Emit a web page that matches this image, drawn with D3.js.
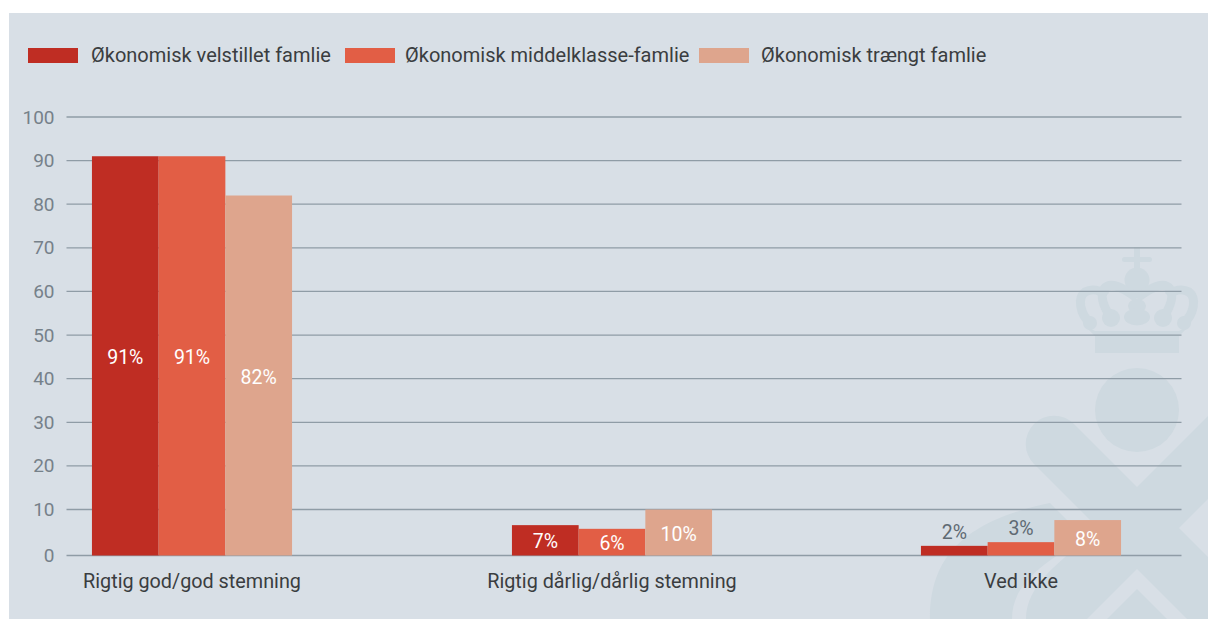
<!DOCTYPE html>
<html>
  <head>
    <meta charset="utf-8">
    <title></title>
    <script src="https://d3js.org/d3.v7.min.js"></script>
    <style>
      html, body { margin: 0; padding: 0; background: #fff; }
      svg { display: block; }
      text { font-family: "Roboto", sans-serif; }
    </style>
  </head>
  <body>
    <script type="text/javascript">

    var categories = ["Rigtig god/god stemning", "Rigtig dårlig/dårlig stemning", "Ved ikke"];
    var series = ["Økonomisk velstillet famlie", "Økonomisk middelklasse-famlie", "Økonomisk trængt famlie"];
    var velstillet = [91, 6.6, 2.1];
    var middelklasse = [91, 5.8, 2.9];
    var traengt = [82, 10, 7.7];
    var velstilletLabels = ["91%", "7%", "2%"];
    var middelklasseLabels = ["91%", "6%", "3%"];
    var traengtLabels = ["82%", "10%", "8%"];
    var yTicks = [0, 10, 20, 30, 40, 50, 60, 70, 80, 90, 100];

    var width = 1208, height = 619;

    var svg = d3.select("body").append("svg")
        .attr("width", width)
        .attr("height", height);

    svg.append("rect").attr("x", 9).attr("y", 13).attr("width", 1199).attr("height", 606).attr("fill", "#d8dfe6");

    // watermark: crown and cross behind the grid
    var mark = svg.append("g").attr("fill", "#ced9e0");
    mark.append("circle").attr("cx", 1137).attr("cy", 410).attr("r", 42);
    mark.append("path").attr("d", "M1137,487L1208,416V557L1208,619H1187L1137,569L1087,619H1026C1026,585 1060,560 1100,530L1034,464A28,28 0 0 1 1074,424Z");
    mark.append("path").attr("d", "M1050,503L1085,538C1050,560 1012,580 1012,619H930C930,560 960,522 1050,503Z");
    // light gaps in the cross
    mark.append("path").attr("fill", "#d8dfe6").attr("d", "M1208,499L1179,528L1208,557Z");
    mark.append("path").attr("d", "M1137,589L1107,619H1167Z");

    var crown = mark.append("g");
    crown.append("rect").attr("x", 1134).attr("y", 247).attr("width", 6).attr("height", 26);
    crown.append("rect").attr("x", 1122).attr("y", 257).attr("width", 30).attr("height", 5).attr("rx", 2.5);
    crown.append("circle").attr("cx", 1137).attr("cy", 280).attr("r", 12.5);
    crown.append("ellipse").attr("cx", 1137).attr("cy", 306).attr("rx", 9).attr("ry", 7);
    crown.append("ellipse").attr("cx", 1137).attr("cy", 317).attr("rx", 13).attr("ry", 8.5);
    crown.append("rect").attr("x", 1095).attr("y", 335).attr("width", 84).attr("height", 18);
    crown.append("path").attr("d", "M1085,326L1095,331H1179L1189,326L1179,336H1095Z");
    [1, -1].forEach(function(side) {
      var half = crown.append("g").attr("transform", side < 0 ? "translate(2274,0) scale(-1,1)" : null);
      half.append("circle").attr("cx", 1111).attr("cy", 318).attr("r", 9);
      half.append("circle").attr("cx", 1090).attr("cy", 323).attr("r", 7);
      half.append("path").attr("fill", "none").attr("stroke", "#ced9e0").attr("stroke-width", 9)
          .attr("d", "M1090,323C1080,314 1077,298 1085,292C1092,288 1100,290 1106,296");
      half.append("path").attr("fill", "none").attr("stroke", "#ced9e0").attr("stroke-width", 9)
          .attr("d", "M1111,318C1103,306 1100,296 1104,289C1110,281 1122,287 1137,298");
    });

    // the 0-10 step is a little taller than the others in the original
    var y = d3.scaleLinear().domain([0, 10, 100]).range([555.5, 509.5, 117]);
    // the groups are not evenly spaced in the original
    var x = d3.scaleOrdinal().domain(categories).range([192, 612, 1021]);
    var barW = 66.7;
    var colors = ["#bf2d23", "#e25e45", "#dea58d"];

    var yAxis = d3.axisLeft(y).tickValues(yTicks).tickSize(1115).tickPadding(0).offset(0);
    var ag = svg.append("g").attr("transform", "translate(1181.5,0)").call(yAxis);
    ag.select(".domain").remove();
    ag.selectAll("line").attr("stroke", "#8f9ca6").attr("stroke-width", 1.3);
    ag.selectAll("text").remove();

    svg.append("g").selectAll("text").data(yTicks).enter().append("text")
        .attr("x", 54.5).attr("y", function(d) { return y(d) + 6.5; })
        .attr("text-anchor", "end").attr("font-size", 19).attr("fill", "#76818a")
        .text(function(d) { return d; });

    var rows = [velstillet, middelklasse, traengt];
    var labels = [velstilletLabels, middelklasseLabels, traengtLabels];
    rows.forEach(function(row, s) {
      svg.append("g").selectAll("rect").data(row).enter().append("rect")
          .attr("x", function(d, i) { return x(categories[i]) + (s - 1.5) * barW; })
          .attr("y", function(d) { return y(d); })
          .attr("width", barW)
          .attr("height", function(d) { return y(0) - y(d); })
          .attr("fill", colors[s]);
      svg.append("g").selectAll("text").data(row).enter().append("text")
          .attr("x", function(d, i) { return x(categories[i]) + (s - 1) * barW; })
          .attr("y", function(d) { return d < 5 ? y(d) - 7 : (y(d) + y(0)) / 2 + 8; })
          .attr("text-anchor", "middle").attr("font-size", 19.5)
          .attr("fill", function(d) { return d < 5 ? "#5f6a73" : "#fff"; })
          .text(function(d, i) { return labels[s][i]; });
    });

    svg.append("g").selectAll("text").data(categories).enter().append("text")
        .attr("x", function(d) { return x(d); }).attr("y", 588)
        .attr("text-anchor", "middle").attr("font-size", 19.8).attr("fill", "#3a3d40")
        .text(function(d) { return d; });

    var legendX = [28, 345, 699];
    var legendTextX = [91, 405, 761];
    series.forEach(function(d, i) {
      svg.append("rect").attr("x", legendX[i]).attr("y", 48).attr("width", 50).attr("height", 15).attr("fill", colors[i]);
      svg.append("text").attr("x", legendTextX[i]).attr("y", 62).attr("font-size", 20).attr("fill", "#3a3d40").text(d);
    });

    </script>
  </body>
</html>
